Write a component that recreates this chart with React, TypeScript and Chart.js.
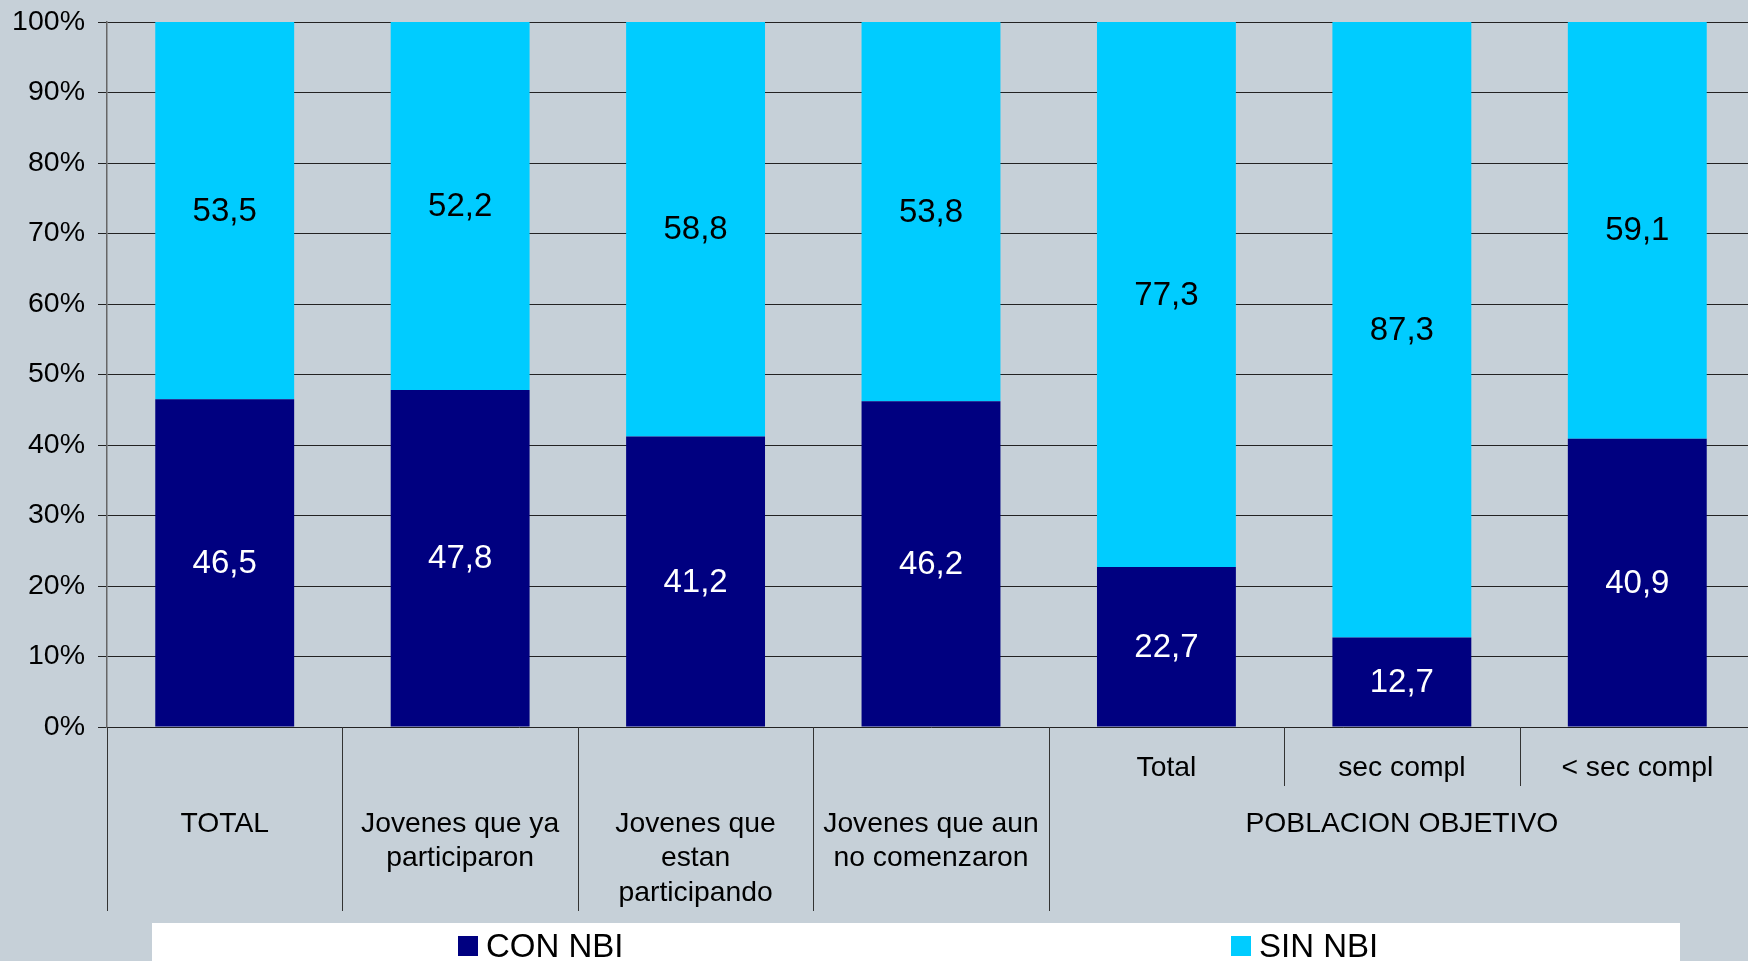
import { useEffect, useRef } from "react";
import { Chart, registerables } from "chart.js";

Chart.register(...registerables);

const categories = [
  "TOTAL",
  "Jovenes que ya participaron",
  "Jovenes que estan participando",
  "Jovenes que aun no comenzaron",
  "Total",
  "sec compl",
  "< sec compl",
];
const categoryLines = [
  ["TOTAL"],
  ["Jovenes que ya", "participaron"],
  ["Jovenes que", "estan", "participando"],
  ["Jovenes que aun", "no comenzaron"],
  ["Total"],
  ["sec compl"],
  ["< sec compl"],
];
const groupLabel = "POBLACION OBJETIVO";
const groupStartIndex = 4;
const seriesNames = ["CON NBI", "SIN NBI"];
const conNBI = [46.5, 47.8, 41.2, 46.2, 22.7, 12.7, 40.9];
const sinNBI = [53.5, 52.2, 58.8, 53.8, 77.3, 87.3, 59.1];
const yTickValues = [0, 10, 20, 30, 40, 50, 60, 70, 80, 90, 100];

const BG = "#C6D0D8";
const NAVY = "#000080";
const CYAN = "#00CCFF";
const FONT = "'Liberation Sans', Arial, sans-serif";

const fmt = (v: number) => v.toFixed(1).replace(".", ",");

const customPlugin = {
  id: "custom",
  beforeDraw(chart: any) {
    const { ctx, width, height } = chart;
    ctx.save();
    ctx.fillStyle = BG;
    ctx.fillRect(0, 0, width, height);
    ctx.restore();
  },
  afterDatasetsDraw(chart: any) {
    const { ctx } = chart;
    ctx.save();
    ctx.font = `33px ${FONT}`;
    ctx.textAlign = "center";
    ctx.textBaseline = "middle";
    chart.data.datasets.forEach((ds: any, di: number) => {
      const meta = chart.getDatasetMeta(di);
      meta.data.forEach((bar: any, i: number) => {
        const v = ds.data[i];
        const cy = (bar.y + bar.base) / 2;
        ctx.fillStyle = di === 0 ? "#FFFFFF" : "#000000";
        ctx.fillText(fmt(v), bar.x, cy + 1);
      });
    });
    ctx.restore();
  },
  afterDraw(chart: any) {
    const { ctx, chartArea } = chart;
    const xs = chart.scales.x;
    const n = chart.data.labels.length;
    const catW = (chartArea.right - chartArea.left) / n;
    const b = chartArea.bottom;
    ctx.save();
    // dividers
    ctx.strokeStyle = "#333333";
    ctx.lineWidth = 1;
    for (let i = 0; i < n; i++) {
      const x = Math.round(chartArea.left + i * catW) + 0.5;
      const full = i <= groupStartIndex;
      ctx.beginPath();
      ctx.moveTo(x, b);
      ctx.lineTo(x, b + (full ? 184 : 59));
      ctx.stroke();
    }
    // labels
    ctx.fillStyle = "#000000";
    ctx.font = `28.3px ${FONT}`;
    ctx.textAlign = "center";
    ctx.textBaseline = "middle";
    for (let i = 0; i < n; i++) {
      const cx = xs.getPixelForValue(i);
      const lines = categoryLines[i];
      if (i < groupStartIndex) {
        lines.forEach((ln, k) => ctx.fillText(ln, cx, b + 97 + k * 34.5));
      } else {
        lines.forEach((ln, k) => ctx.fillText(ln, cx, b + 41 + k * 34.5));
      }
    }
    const gx =
      (xs.getPixelForValue(groupStartIndex) + xs.getPixelForValue(n - 1)) / 2;
    ctx.fillText(groupLabel, gx, b + 97);

    // legend box
    const top = b + 196;
    ctx.fillStyle = "#FFFFFF";
    ctx.fillRect(152, top, 1680 - 152, chart.height - top);
    const itemX = [458, 1231];
    ctx.font = `33px ${FONT}`;
    ctx.textAlign = "left";
    chart.data.datasets.forEach((ds: any, di: number) => {
      const x0 = itemX[di];
      ctx.fillStyle = ds.backgroundColor;
      ctx.fillRect(x0, top + 13, 20, 20);
      ctx.fillStyle = "#000000";
      ctx.fillText(ds.label, x0 + 28, top + 25);
    });
    ctx.restore();
  },
};

export default function App() {
  const ref = useRef<HTMLCanvasElement | null>(null);
  useEffect(() => {
    document.body.style.margin = "0";
    document.body.style.background = BG;
    const canvas = ref.current;
    if (!canvas) return;
    const chart = new Chart(canvas, {
      type: "bar",
      data: {
        labels: categories,
        datasets: [
          {
            label: seriesNames[0],
            data: conNBI,
            backgroundColor: NAVY,
            categoryPercentage: 1,
            barPercentage: 0.59,
          },
          {
            label: seriesNames[1],
            data: sinNBI,
            backgroundColor: CYAN,
            categoryPercentage: 1,
            barPercentage: 0.59,
          },
        ],
      },
      options: {
        animation: false,
        responsive: true,
        maintainAspectRatio: false,
        layout: {
          padding: { top: 0, left: 0, right: 0, bottom: 234 },
        },
        plugins: {
          legend: { display: false },
          tooltip: { enabled: false },
          title: { display: false },
        },
        scales: {
          x: {
            stacked: true,
            display: false,
          },
          y: {
            stacked: true,
            min: 0,
            max: 100,
            afterFit: (scale: any) => {
              scale.width = 107;
            },
            afterBuildTicks: (scale: any) => {
              scale.ticks = yTickValues.map((v) => ({ value: v }));
            },
            ticks: {
              callback: (v: any) => `${v}%`,
              font: { family: FONT, size: 28.5 },
              color: "#000000",
              padding: 13,
            },
            grid: {
              color: "#222222",
              lineWidth: 1,
              tickLength: 9,
              drawTicks: true,
            },
            border: { display: true, color: "#666666", width: 1.5 },
          },
        },
      },
      plugins: [customPlugin],
    });
    return () => chart.destroy();
  }, []);
  return (
    <div
      style={{
        width: 1748,
        height: 961,
        position: "relative",
        overflow: "hidden",
        background: BG,
      }}
    >
      <div
        style={{
          position: "absolute",
          left: 0,
          top: -8,
          width: 1755,
          height: 969,
        }}
      >
        <canvas ref={ref} />
      </div>
    </div>
  );
}
